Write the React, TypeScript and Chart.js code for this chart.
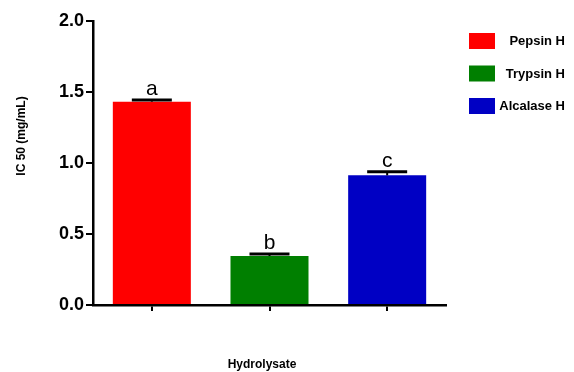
import React, { useEffect, useRef } from "react";
import { Chart, registerables } from "chart.js";

Chart.register(...registerables);

// IC50 per hydrolysate, with SEM and significance letters
const categories = ["Pepsin H", "Trypsin H", "Alcalase H"];
const ic50Values = [1.432, 0.345, 0.913];
const ic50Errors = [0.012, 0.014, 0.026];
const sigLetters = ["a", "b", "c"];
const barColors = ["#FF0000", "#007F00", "#0000C4"];
const yTickValues = [0, 0.5, 1.0, 1.5, 2.0];

const FONT = "'Liberation Sans', Arial, sans-serif";

const annotatePlugin = {
  id: "annotate",
  afterDatasetsDraw(chart: any) {
    const { ctx } = chart;
    const yScale = chart.scales.y;
    const meta = chart.getDatasetMeta(0);
    ctx.save();
    meta.data.forEach((bar: any, i: number) => {
      const top = yScale.getPixelForValue(ic50Values[i]);
      const capY = yScale.getPixelForValue(ic50Values[i] + ic50Errors[i]);
      ctx.strokeStyle = "#000";
      ctx.lineWidth = 2;
      ctx.beginPath();
      ctx.moveTo(bar.x, top);
      ctx.lineTo(bar.x, capY);
      ctx.stroke();
      ctx.lineWidth = 3;
      ctx.beginPath();
      ctx.moveTo(bar.x - 20, capY);
      ctx.lineTo(bar.x + 20, capY);
      ctx.stroke();
      ctx.fillStyle = "#000";
      ctx.font = `21px ${FONT}`;
      ctx.textAlign = "center";
      ctx.textBaseline = "alphabetic";
      ctx.fillText(sigLetters[i], bar.x, capY - 5);
    });
    ctx.restore();
  },
  afterDraw(chart: any) {
    const { ctx, chartArea } = chart;
    ctx.save();
    ctx.fillStyle = "#000";
    // y-axis title
    ctx.font = `bold 12px ${FONT}`;
    ctx.textAlign = "center";
    ctx.textBaseline = "middle";
    ctx.translate(22, 136);
    ctx.rotate(-Math.PI / 2);
    ctx.fillText("IC 50 (mg/mL)", 0, 0);
    ctx.setTransform(1, 0, 0, 1, 0, 0);
    // x-axis title
    ctx.font = `bold 12px ${FONT}`;
    ctx.textAlign = "center";
    ctx.textBaseline = "alphabetic";
    ctx.fillText("Hydrolysate", 262, 368);
    // legend
    categories.forEach((name, i) => {
      const y = 33 + i * 32.5;
      ctx.fillStyle = barColors[i];
      ctx.fillRect(chartArea.right + 23, y, 26, 16);
      ctx.fillStyle = "#000";
      ctx.font = `bold 13px ${FONT}`;
      ctx.textAlign = "right";
      ctx.textBaseline = "middle";
      ctx.fillText(name, 565, y + 8.5);
    });
    ctx.restore();
  },
};

export default function App() {
  const canvasRef = useRef<HTMLCanvasElement>(null);

  useEffect(() => {
    const canvas = canvasRef.current;
    if (!canvas) return;
    const chart = new Chart(canvas, {
      type: "bar",
      data: {
        labels: categories,
        datasets: [
          {
            data: ic50Values,
            backgroundColor: barColors,
            borderWidth: 0,
            barPercentage: 0.663,
            categoryPercentage: 1,
          },
        ],
      },
      options: {
        animation: false,
        responsive: false,
        layout: { padding: { left: 0, right: 128, top: 21, bottom: 0 } },
        plugins: {
          legend: { display: false },
          tooltip: { enabled: false },
        },
        scales: {
          x: {
            offset: true,
            grid: {
              offset: false,
              drawOnChartArea: false,
              drawTicks: true,
              tickLength: 6,
              color: "#000",
              lineWidth: 2,
            },
            border: { display: true, color: "#000", width: 2.5 },
            ticks: { display: false },
            afterFit: (scale: any) => {
              scale.height = 372 - 305;
            },
          },
          y: {
            min: 0,
            max: 2,
            afterBuildTicks: (scale: any) => {
              scale.ticks = yTickValues.map((v) => ({ value: v }));
            },
            grid: {
              drawOnChartArea: false,
              drawTicks: true,
              tickLength: 7,
              color: "#000",
              lineWidth: 2,
            },
            border: { display: true, color: "#000", width: 2.5 },
            ticks: {
              color: "#000",
              padding: 2,
              font: { family: FONT, size: 18, weight: "bold" },
              callback: (v: any) => Number(v).toFixed(1),
            },
            afterFit: (scale: any) => {
              scale.width = 93;
            },
          },
        },
      },
      plugins: [annotatePlugin],
    });
    return () => chart.destroy();
  }, []);

  return (
    <div style={{ position: "fixed", left: 0, top: 0, width: 574, height: 372, background: "#fff" }}>
      <canvas ref={canvasRef} width={574} height={372} style={{ width: 574, height: 372 }} />
    </div>
  );
}
